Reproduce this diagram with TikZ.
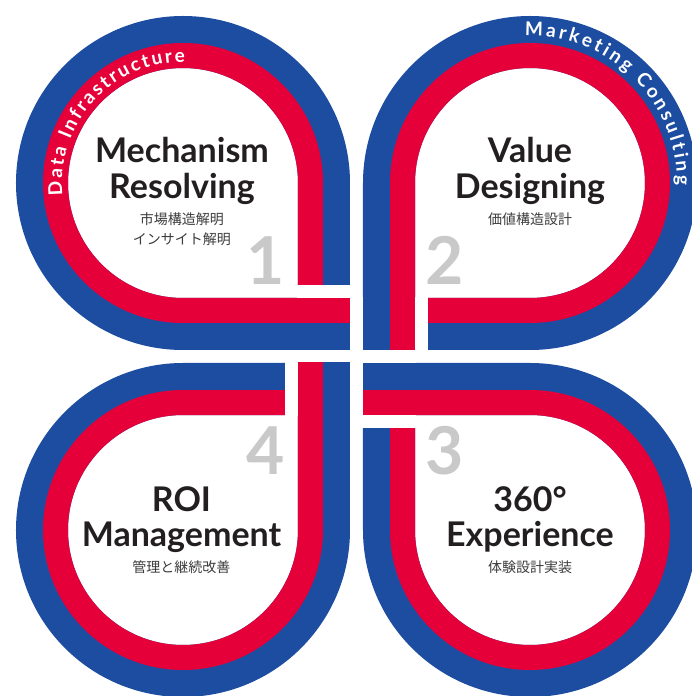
\documentclass[tikz,border=0pt]{standalone}
\usepackage{fontspec}
\setmainfont{Lato}
\newfontfamily\jpfont{Noto Sans CJK JP}
\usetikzlibrary{decorations.text}
\definecolor{loopblue}{HTML}{1C4DA1}
\definecolor{loopred}{HTML}{E6003A}
\definecolor{numgray}{HTML}{C9C9C9}
\definecolor{subgray}{HTML}{3C3C3C}
\definecolor{titleblack}{HTML}{231F20}
\newcommand{\loopline}[2]{(-173.5,#2) -- (173.5,#2) arc[start angle=-90,end angle=180,radius=#1pt]
    -- (#2,-173.5) arc[start angle=180,end angle=450,radius=#1pt]
    -- (-173.5,-#2) arc[start angle=90,end angle=360,radius=#1pt]
    -- (-#2,173.5) arc[start angle=0,end angle=270,radius=#1pt] -- cycle}

\begin{document}
\begin{tikzpicture}[x=1pt,y=1pt,
    ribbon/.style={draw=loopblue,line width=52pt},
    redband/.style={draw=loopred,line width=25pt},
    gapband/.style={draw=white,line width=78pt},
    title/.style={font=\fontsize{34}{34}\selectfont\bfseries,text=titleblack,anchor=base,inner sep=0pt},
    jp/.style={font=\jpfont\fontsize{14}{14}\selectfont,text=subgray,anchor=base,inner sep=0pt},
    num/.style={font=\fontsize{66}{66}\selectfont\bfseries,text=numgray,inner sep=0pt},
    arctext/.style={decorate,decoration={text along path,text color=white,text align=fit to path,
        text={|\fontsize{19}{19}\selectfont\bfseries|#1}}}]
    \path[use as bounding box,fill=white] (-356.5,-339.5) rectangle (335.5,356.5);

    \draw[ribbon] \loopline{141}{32.5};
    \draw[redband] \loopline{127.5}{46};
    \foreach \ang in {0,-90,-180,-270}{
        \begin{scope}[rotate=\ang]
            \draw[gapband] (-59.5,32.5) -- (-5.5,32.5);
            \draw[ribbon] (-59.5,32.5) -- (-5.5,32.5);
            \draw[redband] (-59.5,46) -- (-5.5,46);
        \end{scope}
    }

    \path[arctext={Data Infrastructure}] (-173.5,173.5) ++(186:121pt) arc[start angle=186,end angle=89,radius=121pt];
    \path[arctext={Marketing Consulting}] (173.5,173.5) ++(92:147pt) arc[start angle=92,end angle=-1,radius=147pt];

    \node[title] (mech) at (-174.5,193.5) {Mechanism};
    \node[title] (reso) at (-174.5,158) {Resolving};
    \node[jp] (mech-a) at (-174.5,132) {市場構造解明};
    \node[jp] (mech-b) at (-174.5,112) {インサイト解明};
    \node[num,anchor=base east] (one) at (-72,71.5) {1};

    \node[title] (value) at (173.5,193.5) {Value};
    \node[title] (design) at (173.5,158) {Designing};
    \node[jp] (value-a) at (173.5,132) {価値構造設計};
    \node[num,anchor=base west] (two) at (69,71.5) {2};

    \node[title] (deg) at (173.5,-155) {360°};
    \node[title] (exper) at (173.5,-190) {Experience};
    \node[jp] (exper-a) at (173.5,-216) {体験設計実装};
    \node[num,anchor=base west] (three) at (69,-118) {3};

    \node[title] (roi) at (-175,-155) {ROI};
    \node[title] (manage) at (-175,-190) {Management};
    \node[jp] (manage-a) at (-175,-216) {管理と継続改善};
    \node[num,anchor=base east] (four) at (-72,-118) {4};
\end{tikzpicture}
\end{document}
